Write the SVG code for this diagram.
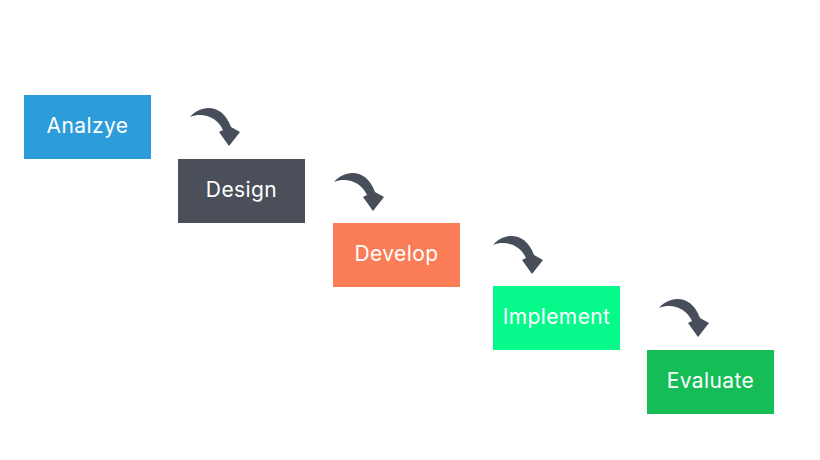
<svg xmlns="http://www.w3.org/2000/svg" width="820" height="460" viewBox="0 0 820 460">
  <defs>
    <style>
      .box text { font-family: Inter, "Open Sans", "Liberation Sans", sans-serif; font-size: 21px; letter-spacing: 0.4px; fill: #ffffff; text-anchor: middle; }
      .arrow { fill: #474d59; }
    </style>
    <path id="curl" d="M5,15 C15,3 37,0 46,25 L55,30 L44,44 L34,30 L38,28 C32,15 18,10 5,15 Z"/>
  </defs>
  <rect width="820" height="460" fill="#ffffff"/>
  <g id="analyze" class="box">
    <rect x="24" y="95" width="127" height="64" fill="#2d9cdb"/>
    <text x="87.5" y="132.5">Analzye</text>
  </g>
  <g id="design" class="box">
    <rect x="178" y="159" width="127" height="64" fill="#4a4f5a"/>
    <text x="241.5" y="196.5">Design</text>
  </g>
  <g id="develop" class="box">
    <rect x="333" y="223" width="127" height="64" fill="#fb7d57"/>
    <text x="396.5" y="260.5">Develop</text>
  </g>
  <g id="implement" class="box">
    <rect x="493" y="286" width="127" height="64" fill="#05f98b"/>
    <text x="556.5" y="323.5">Implement</text>
  </g>
  <g id="evaluate" class="box">
    <rect x="647" y="350" width="127" height="64" fill="#15bd57"/>
    <text x="710.5" y="387.5">Evaluate</text>
  </g>
  <g id="connectors" class="arrow">
    <use href="#curl" transform="translate(185,102)"/>
    <use href="#curl" transform="translate(329,167)"/>
    <use href="#curl" transform="translate(488,230)"/>
    <use href="#curl" transform="translate(654,293)"/>
  </g>
</svg>
